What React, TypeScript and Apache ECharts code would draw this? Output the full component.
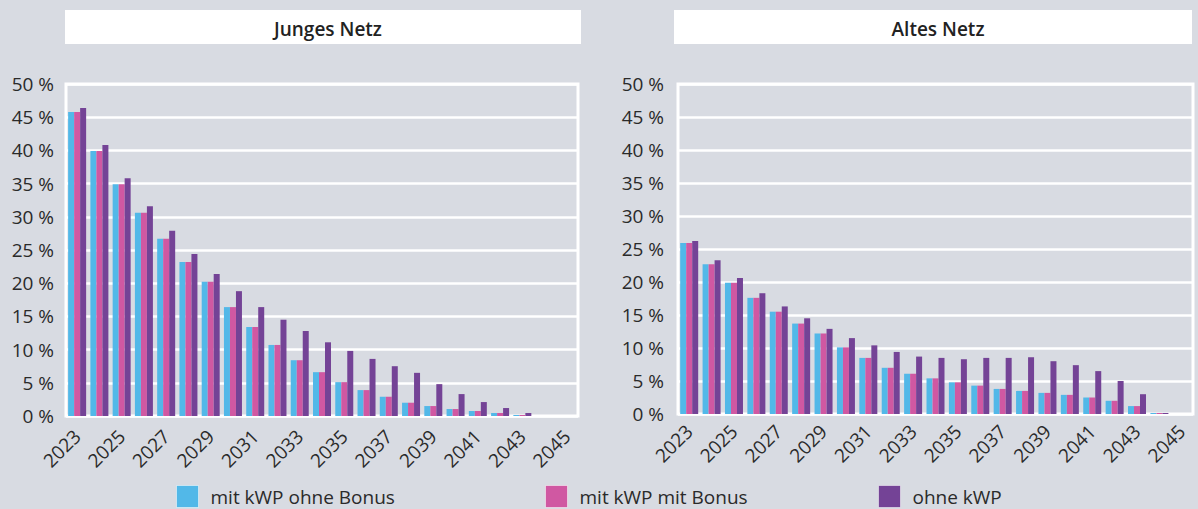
import React, { useEffect, useRef } from "react";
import * as echarts from "echarts";

const years = ["2023","2024","2025","2026","2027","2028","2029","2030","2031","2032","2033","2034","2035","2036","2037","2038","2039","2040","2041","2042","2043","2044","2045"];
const seriesNames = ["mit kWP ohne Bonus", "mit kWP mit Bonus", "ohne kWP"];
const colors = ["#52b8e8", "#d058a2", "#744396"];
const chartTitles = ["Junges Netz", "Altes Netz"];
const yTicks = [0, 5, 10, 15, 20, 25, 30, 35, 40, 45, 50];

const jungOhneBonus = [45.8, 39.9, 34.9, 30.6, 26.7, 23.2, 20.2, 16.4, 13.4, 10.7, 8.4, 6.6, 5.1, 3.9, 2.9, 2.0, 1.5, 1.05, 0.75, 0.45, 0.15, 0, 0];
const jungMitBonus = [45.8, 39.9, 34.9, 30.6, 26.7, 23.2, 20.2, 16.4, 13.4, 10.7, 8.4, 6.6, 5.1, 3.9, 2.9, 2.0, 1.5, 1.05, 0.75, 0.45, 0.15, 0, 0];
const jungOhneKwp = [46.4, 40.8, 35.8, 31.6, 27.9, 24.4, 21.4, 18.8, 16.4, 14.5, 12.8, 11.1, 9.8, 8.6, 7.5, 6.5, 4.8, 3.3, 2.1, 1.2, 0.45, 0, 0];

const altOhneBonus = [25.9, 22.7, 19.9, 17.6, 15.5, 13.7, 12.2, 10.1, 8.5, 7.0, 6.1, 5.4, 4.8, 4.3, 3.8, 3.5, 3.2, 2.9, 2.5, 2.0, 1.2, 0.15, 0];
const altMitBonus = [25.9, 22.7, 19.9, 17.6, 15.5, 13.7, 12.2, 10.1, 8.5, 7.0, 6.1, 5.4, 4.8, 4.3, 3.8, 3.5, 3.2, 2.9, 2.5, 2.0, 1.2, 0.15, 0];
const altOhneKwp = [26.2, 23.3, 20.6, 18.3, 16.3, 14.5, 12.9, 11.5, 10.4, 9.4, 8.7, 8.5, 8.3, 8.5, 8.5, 8.6, 8.0, 7.4, 6.5, 5.0, 3.0, 0.15, 0];

const FONT = "'Open Sans', 'Noto Sans', sans-serif";
const TEXT = "#2a2a2a";

export default function App() {
  const ref = useRef<HTMLDivElement>(null);
  useEffect(() => {
    document.body.style.margin = "0";
    const chart = echarts.init(ref.current!, undefined, { renderer: "svg" });
    const grids = [
      { left: 66, top: 84, width: 512, height: 332 },
      { left: 678, top: 84, width: 515, height: 330 },
    ];
    const data = [
      [jungOhneBonus, jungMitBonus, jungOhneKwp],
      [altOhneBonus, altMitBonus, altOhneKwp],
    ];
    const series: any[] = [];
    data.forEach((set, gi) => {
      set.forEach((vals, si) => {
        series.push({
          type: "bar",
          name: seriesNames[si],
          xAxisIndex: gi,
          yAxisIndex: gi,
          data: vals,
          barWidth: 6,
          barGap: "0%",
          itemStyle: { color: colors[si] },
        });
      });
    });
    const legendLefts = [176, 545, 878];
    chart.setOption({
      animation: false,
      backgroundColor: "#d8dbe2",
      textStyle: { fontFamily: FONT },
      graphic: [
        { type: "rect", shape: { x: 65, y: 10, width: 516, height: 34 }, style: { fill: "#ffffff" }, z: -1 },
        { type: "rect", shape: { x: 674, y: 10, width: 518, height: 34 }, style: { fill: "#ffffff" }, z: -1 },
      ],
      title: [
        { text: chartTitles[0], left: 323, top: 14, textAlign: "center", textStyle: { fontFamily: FONT, fontSize: 19, fontWeight: 600, color: "#222" } },
        { text: chartTitles[1], left: 933, top: 14, textAlign: "center", textStyle: { fontFamily: FONT, fontSize: 19, fontWeight: 600, color: "#222" } },
      ],
      legend: seriesNames.map((n, i) => ({
        data: [n],
        left: legendLefts[i],
        top: 485,
        padding: 0,
        itemWidth: 22,
        itemHeight: 22,
        icon: "rect",
        itemStyle: { borderColor: "rgba(255,255,255,0.5)", borderWidth: 1 },
        textStyle: { fontFamily: FONT, fontSize: 19, lineHeight: 19, color: TEXT, padding: [0, 0, 0, 7] },
        selectedMode: false,
      })),
      grid: grids.map((g) => ({
        ...g,
        show: true,
        borderColor: "#ffffff",
        borderWidth: 3,
        backgroundColor: "transparent",
      })),
      xAxis: grids.map((_, gi) => ({
        type: "category",
        gridIndex: gi,
        data: years,
        axisLine: { show: false },
        axisTick: { show: false },
        axisLabel: {
          interval: 1,
          rotate: 45,
          margin: gi === 0 ? 17 : 14,
          fontFamily: FONT,
          fontSize: 19,
          color: TEXT,
        },
      })),
      yAxis: grids.map((_, gi) => ({
        type: "value",
        gridIndex: gi,
        min: yTicks[0],
        max: yTicks[yTicks.length - 1],
        interval: 5,
        axisLine: { show: false },
        axisTick: { show: false },
        splitLine: { show: true, lineStyle: { color: "#ffffff", width: 2.5 } },
        axisLabel: {
          formatter: "{value} %",
          margin: gi === 0 ? 12 : 14,
          fontFamily: FONT,
          fontSize: 19,
          color: TEXT,
        },
      })),
      series,
    });
    return () => chart.dispose();
  }, []);
  return <div ref={ref} style={{ position: "fixed", left: 0, top: 0, width: 1198, height: 509 }} />;
}
